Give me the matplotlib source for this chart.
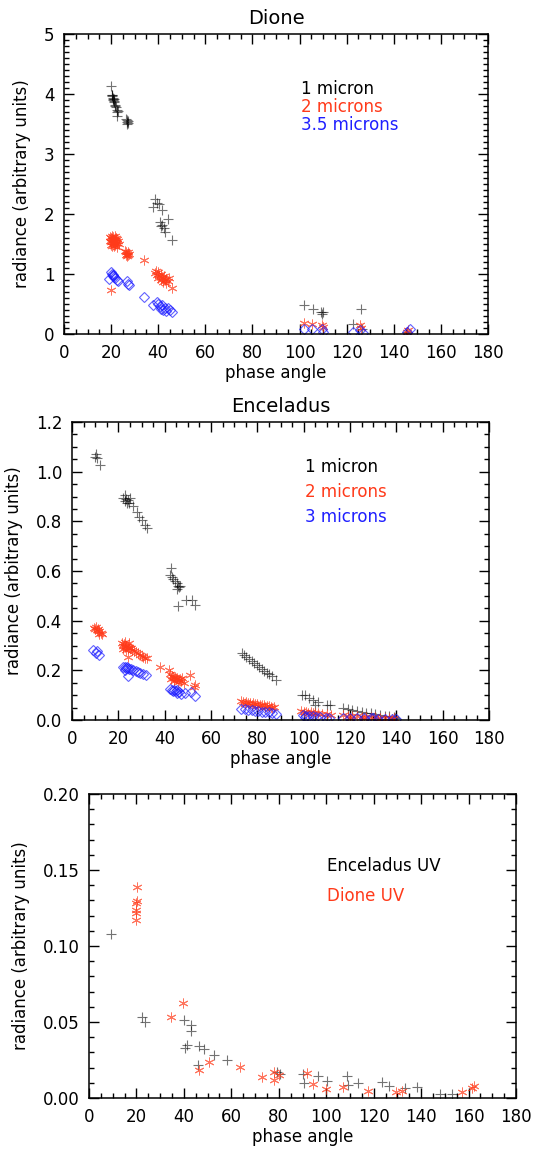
import matplotlib.pyplot as plt
from matplotlib.ticker import MultipleLocator, FormatStrFormatter

plt.rcParams['font.family'] = 'DejaVu Sans'

# colours
BLACK = '#000000'
RED = '#ff3a1a'
BLUE = '#1f1fff'

# ---------------- Dione ----------------
dione_1um_x = [20.0, 20.2, 20.4, 20.6, 20.8, 21.0, 21.2, 21.4, 21.6, 21.8, 22.0, 22.3, 22.6, 22.4, 23.0, 20.5, 21.1,
               26.4, 26.7, 26.9, 27.1, 26.8, 27.3,
               37.6, 38.6, 39.6, 40.3, 41.6, 44.3, 40.8, 41.5, 42.6, 42.9, 45.8, 41.2,
               101.9, 105.6, 109.0, 110.1, 109.5, 126.1, 122.5, 126.4, 145.5]
dione_1um_y = [4.13, 3.98, 3.96, 3.94, 3.92, 3.90, 3.88, 3.86, 3.82, 3.80, 3.78, 3.74, 3.70, 3.64, 3.72, 3.99, 3.92,
               3.58, 3.56, 3.54, 3.52, 3.50, 3.55,
               2.12, 2.25, 2.18, 2.16, 2.06, 1.91, 1.87, 1.82, 1.76, 1.70, 1.57, 1.80,
               0.48, 0.42, 0.37, 0.36, 0.33, 0.42, 0.17, 0.09, 0.04]

dione_2um_x = [19.5, 20.0, 20.5, 21.0, 21.5, 22.0, 22.5, 23.0, 19.6, 20.1, 20.6, 21.1, 21.6, 22.1, 22.6, 23.2,
               19.8, 20.3, 20.8, 21.3, 21.8, 22.3, 20.4, 21.7,
               26.0, 26.5, 27.0, 27.4, 26.2, 26.7, 27.2, 26.8,
               34.1, 19.8,
               38.5, 39.0, 39.5, 40.0, 40.5, 41.0, 41.5, 42.0, 42.5, 43.0, 43.5, 44.0, 42.2, 41.2, 39.8, 43.2, 44.5, 45.7,
               101.9, 105.4, 109.4, 109.8, 125.7, 126.2, 145.5, 146.2]
dione_2um_y = [1.62, 1.60, 1.63, 1.61, 1.64, 1.60, 1.58, 1.55, 1.55, 1.53, 1.56, 1.54, 1.52, 1.55, 1.52, 1.50,
               1.48, 1.47, 1.50, 1.46, 1.49, 1.45, 1.58, 1.57,
               1.38, 1.36, 1.37, 1.34, 1.32, 1.30, 1.31, 1.34,
               1.24, 0.73,
               1.02, 1.05, 0.99, 1.03, 0.97, 1.00, 0.95, 0.93, 0.96, 0.90, 0.92, 0.88, 0.86, 0.90, 0.94, 0.85, 0.94, 0.77,
               0.19, 0.17, 0.15, 0.12, 0.15, 0.10, 0.04, 0.06]

dione_35um_x = [19.8, 20.2, 20.6, 21.0, 21.4, 21.8, 22.3, 23.1, 20.9, 19.2, 26.6, 27.0, 27.5,
                34.1, 37.6, 39.3, 40.0, 40.8, 41.5, 42.2, 42.9, 43.5, 44.3, 44.8, 45.8, 41.0,
                101.9, 105.4, 109.4, 110.0, 122.5, 125.7, 127.1, 145.5, 146.9]
dione_35um_y = [1.04, 1.00, 0.98, 0.96, 0.95, 0.93, 0.90, 0.88, 0.99, 0.91, 0.88, 0.84, 0.82,
                0.62, 0.48, 0.54, 0.50, 0.46, 0.49, 0.40, 0.43, 0.38, 0.44, 0.40, 0.36, 0.42,
                0.09, 0.08, 0.08, 0.04, 0.04, 0.07, 0.02, 0.04, 0.09]

# ---------------- Enceladus ----------------
encel_1um_x = [9.8, 10.6, 10.2, 12.1,
               22.2, 22.8, 23.3, 23.8, 24.3, 24.8, 23.0, 25.0, 26.5, 27.9, 29.1, 30.2, 31.5, 32.5,
               42.7, 42.3, 43.0, 43.7, 44.5, 45.2, 45.8, 46.3, 45.5, 46.8, 45.9, 49.2, 51.6, 53.1,
               73.2, 74.2, 75.3, 76.4, 77.5, 78.6, 79.7, 80.8, 81.9, 83.0, 84.1, 85.2, 86.3, 88.1,
               99.1, 100.5, 102.4, 104.1, 106.4, 105.0, 109.9, 111.3,
               117.1, 119, 121, 123, 125, 127, 129, 131, 133, 135, 137, 139, 139.5]
encel_1um_y = [1.060, 1.054, 1.070, 1.027,
               0.893, 0.880, 0.890, 0.875, 0.885, 0.872, 0.905, 0.895, 0.860, 0.839, 0.819, 0.805, 0.785, 0.772,
               0.613, 0.584, 0.575, 0.566, 0.558, 0.550, 0.540, 0.534, 0.528, 0.540, 0.459, 0.485, 0.483, 0.463,
               0.268, 0.260, 0.252, 0.245, 0.237, 0.230, 0.222, 0.214, 0.207, 0.199, 0.191, 0.184, 0.176, 0.161,
               0.101, 0.099, 0.087, 0.081, 0.074, 0.060, 0.060, 0.060,
               0.047, 0.043, 0.040, 0.036, 0.033, 0.030, 0.027, 0.024, 0.021, 0.018, 0.016, 0.013, 0.008]

encel_2um_x = [9.4, 10.0, 10.6, 11.2, 11.8, 12.4, 10.2, 11.5, 12.8,
               21.5, 22.0, 22.5, 23.0, 23.5, 24.0, 24.5, 25.0, 25.5, 22.2, 23.2, 24.2, 26.0, 26.8, 27.6,
               28.4, 29.2, 30.0, 30.8, 31.6, 32.5, 22.8, 24.6,
               38.0,
               42.0, 42.4, 43.0, 43.5, 44.0, 44.5, 45.0, 45.5, 46.0, 46.5, 47.0, 42.8, 44.2, 45.8, 47.3, 48.5,
               50.9, 53.1, 52.5,
               73.0, 74.0, 75.0, 76.0, 77.0, 78.0, 79.0, 80.0, 81.0, 82.0, 83.0, 84.0, 85.0, 86.0, 87.0,
               74.5, 77.5, 80.5, 83.5, 86.5,
               99.0, 100.0, 101.0, 102.0, 103.0, 104.0, 105.0, 106.0, 108.0, 110.0, 112.0,
               117, 119, 121, 123, 125, 127, 129, 131, 133, 135, 137, 139, 120, 126, 132, 138]
encel_2um_y = [0.372, 0.365, 0.362, 0.368, 0.358, 0.352, 0.375, 0.345, 0.347,
               0.310, 0.300, 0.305, 0.295, 0.300, 0.290, 0.295, 0.288, 0.290, 0.285, 0.283, 0.255, 0.282, 0.278, 0.272,
               0.268, 0.262, 0.258, 0.254, 0.250, 0.248, 0.315, 0.312,
               0.215,
               0.201, 0.185, 0.178, 0.172, 0.168, 0.175, 0.165, 0.170, 0.162, 0.166, 0.158, 0.165, 0.158, 0.155, 0.170, 0.150,
               0.181, 0.141, 0.133,
               0.075, 0.073, 0.072, 0.070, 0.069, 0.067, 0.066, 0.064, 0.062, 0.061, 0.059, 0.057, 0.056, 0.054, 0.052,
               0.064, 0.062, 0.058, 0.054, 0.049,
               0.035, 0.032, 0.034, 0.030, 0.032, 0.028, 0.030, 0.027, 0.025, 0.024, 0.022,
               0.020, 0.018, 0.016, 0.015, 0.014, 0.013, 0.012, 0.011, 0.010, 0.009, 0.008, 0.007, 0.010, 0.008, 0.006, 0.004]

encel_3um_x = [9.2, 10.6, 11.8, 10.2,
               22.2, 22.7, 23.2, 23.7, 24.2, 24.8, 25.4, 26.5, 27.5, 28.5, 29.5, 30.5, 31.9, 24.2, 23.0,
               42.3, 43.0, 43.6, 44.2, 44.8, 45.4, 46.0, 46.9, 45.5, 48.8, 51.5, 53.1,
               73.0, 74.5, 76.0, 77.5, 79.0, 80.5, 82.0, 83.5, 85.0, 86.5, 88.0,
               99.5, 101.0, 102.5, 104.0, 105.5, 107.0, 109.5, 111.0, 100.5,
               117, 120, 123, 126, 129, 132, 135, 138, 140, 130]
encel_3um_y = [0.282, 0.277, 0.262, 0.270,
               0.215, 0.212, 0.210, 0.212, 0.208, 0.206, 0.205, 0.200, 0.196, 0.192, 0.188, 0.185, 0.181, 0.176, 0.200,
               0.123, 0.120, 0.118, 0.121, 0.116, 0.119, 0.114, 0.104, 0.108, 0.107, 0.112, 0.097,
               0.045, 0.043, 0.041, 0.039, 0.038, 0.036, 0.034, 0.032, 0.031, 0.029, 0.025,
               0.020, 0.018, 0.016, 0.017, 0.014, 0.012, 0.010, 0.010, 0.012,
               0.010, 0.009, 0.008, 0.008, 0.007, 0.006, 0.006, 0.005, 0.004, 0.010]

# ---------------- UV ----------------
encel_uv_x = [9.1, 22.2, 23.6, 40.0, 43.0, 42.9, 40.5, 41.4, 46.5, 48.6, 52.8, 58.1, 46.1,
              79.1, 80.5, 90.4, 90.7, 96.4, 100.2, 108.9, 109.3, 113.3, 123.4, 126.3, 133.2, 138.2, 148.0, 153.0]
encel_uv_y = [0.108, 0.053, 0.050, 0.051, 0.048, 0.044, 0.033, 0.035, 0.034, 0.032, 0.028, 0.025, 0.022,
              0.017, 0.016, 0.016, 0.0097, 0.0145, 0.0115, 0.0145, 0.0086, 0.0101, 0.0103, 0.0079, 0.0068, 0.0075,
              0.0027, 0.0027]

dione_uv_x = [20.1, 20.1, 20.0, 19.8, 19.8, 19.8, 39.8, 34.6, 50.7, 46.5, 63.6, 72.8, 78.1, 78.0, 79.9,
              92.1, 94.3, 99.8, 107.0, 117.8, 129.5, 131.9, 157.2, 161.5, 162.2]
dione_uv_y = [0.1386, 0.1298, 0.1280, 0.1237, 0.1220, 0.1170, 0.0627, 0.0536, 0.0235, 0.0184, 0.0206, 0.0136,
              0.0169, 0.0118, 0.0151, 0.0162, 0.0090, 0.0059, 0.0070, 0.0048, 0.0042, 0.0049, 0.0042, 0.0064, 0.0079]

W, H = 537, 1149
fig = plt.figure(figsize=(W / 100, H / 100), dpi=100)


def px_axes(left, top, right, bottom):
    return fig.add_axes([left / W, 1 - bottom / H, (right - left) / W, (bottom - top) / H])


def style(ax, ymax, ymaj, ymin, fmt):
    ax.set_xlim(0, 180)
    ax.set_ylim(0, ymax)
    ax.xaxis.set_major_locator(MultipleLocator(20))
    ax.xaxis.set_minor_locator(MultipleLocator(5))
    ax.yaxis.set_major_locator(MultipleLocator(ymaj))
    ax.yaxis.set_minor_locator(MultipleLocator(ymin))
    ax.yaxis.set_major_formatter(FormatStrFormatter(fmt))
    ax.tick_params(which='both', direction='in', top=True, right=True, labelsize=12, width=1)
    ax.tick_params(which='major', length=7, pad=7)
    ax.tick_params(which='minor', length=3.5)
    for s in ax.spines.values():
        s.set_linewidth(1.1)
    ax.set_xlabel('phase angle', fontsize=12, labelpad=2)
    ax.set_ylabel('radiance (arbitrary units)', fontsize=12, labelpad=9)


def plus(ax, x, y):
    ax.plot(x, y, ls='none', marker='+', ms=6.5, mew=0.8, color=BLACK, alpha=0.55)


def aster(ax, x, y, color=RED):
    ax.plot(x, y, ls='none', marker=(6, 2, 0), ms=7, mew=0.7, color=color, alpha=0.7)


def diam(ax, x, y):
    ax.plot(x, y, ls='none', marker='D', ms=5, mew=0.8, mfc='none', mec=BLUE, alpha=0.7)


# panel 1: Dione
ax1 = px_axes(64, 34, 488, 334)
style(ax1, 5, 1, 0.1, '%d')
plus(ax1, dione_1um_x, dione_1um_y)
aster(ax1, dione_2um_x, dione_2um_y)
diam(ax1, dione_35um_x, dione_35um_y)
ax1.set_title('Dione', fontsize=14, pad=7)
ax1.text(100.5, 4.08, '1 micron', color=BLACK, fontsize=12, va='center')
ax1.text(100.5, 3.78, '2 microns', color=RED, fontsize=12, va='center')
ax1.text(100.5, 3.48, '3.5 microns', color=BLUE, fontsize=12, va='center')

# panel 2: Enceladus
ax2 = px_axes(72, 422, 489, 720)
style(ax2, 1.2, 0.2, 0.05, '%.1f')
plus(ax2, encel_1um_x, encel_1um_y)
aster(ax2, encel_2um_x, encel_2um_y)
diam(ax2, encel_3um_x, encel_3um_y)
ax2.set_title('Enceladus', fontsize=14, pad=7)
ax2.text(100.5, 1.019, '1 micron', color=BLACK, fontsize=12, va='center')
ax2.text(100.5, 0.918, '2 microns', color=RED, fontsize=12, va='center')
ax2.text(100.5, 0.817, '3 microns', color=BLUE, fontsize=12, va='center')

# panel 3: UV
ax3 = px_axes(89, 794, 516, 1098)
style(ax3, 0.2, 0.05, 0.01, '%.2f')
plus(ax3, encel_uv_x, encel_uv_y)
aster(ax3, dione_uv_x, dione_uv_y)
ax3.text(100.3, 0.1526, 'Enceladus UV', color=BLACK, fontsize=12, va='center')
ax3.text(100.3, 0.1329, 'Dione UV', color=RED, fontsize=12, va='center')

fig.savefig('out.png', dpi=100)
